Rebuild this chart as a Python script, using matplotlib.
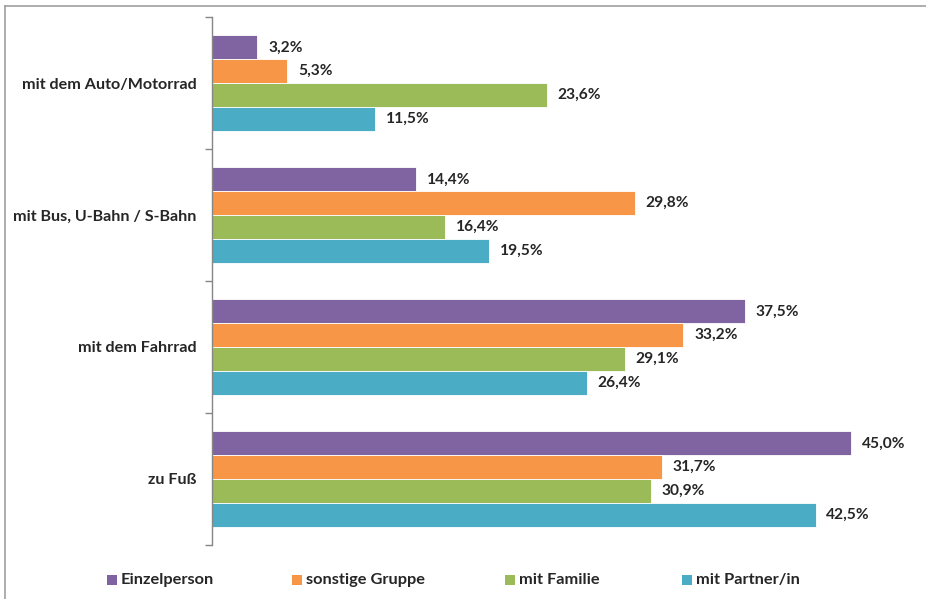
import matplotlib
matplotlib.use("Agg")
import matplotlib.pyplot as plt
from matplotlib.patches import Rectangle
from matplotlib.lines import Line2D
import numpy as np

categories = ["mit dem Auto/Motorrad", "mit Bus, U-Bahn / S-Bahn", "mit dem Fahrrad", "zu Fuß"]
series_names = ["Einzelperson", "sonstige Gruppe", "mit Familie", "mit Partner/in"]
einzelperson = [3.2, 14.4, 37.5, 45.0]
sonstige_gruppe = [5.3, 29.8, 33.2, 31.7]
mit_familie = [23.6, 16.4, 29.1, 30.9]
mit_partner = [11.5, 19.5, 26.4, 42.5]
colors = ["#8064A2", "#F79646", "#9BBB59", "#4BACC6"]

values = [einzelperson, sonstige_gruppe, mit_familie, mit_partner]

plt.rcParams['font.family'] = ['Lato', 'DejaVu Sans']
fig = plt.figure(figsize=(9.26, 5.99), dpi=100)
W, H = 926, 599
ax = fig.add_axes([212 / W, 1 - 545 / H, (922 - 212) / W, (545 - 17) / H])

n = len(categories)
bar_h = 0.18
for si, (name, vals, c) in enumerate(zip(series_names, values, colors)):
    ys = [ci + (si - 1.5) * bar_h for ci in range(n)]
    ax.barh(ys, vals, height=bar_h, color=c, edgecolor='white', linewidth=0.6, label=name)
    for y, v in zip(ys, vals):
        ax.text(v + 0.75, y, f"{v:.1f}%".replace('.', ','), va='center', ha='left',
                fontsize=11.2, fontweight='bold', color='#262626')

ax.set_xlim(0, 50)
ax.set_ylim(n - 0.5, -0.5)
ax.set_yticks(np.arange(n))
ax.set_yticklabels(categories, fontsize=11.6, fontweight='bold', color='#262626')
ax.set_yticks(np.arange(n + 1) - 0.5, minor=True)
ax.tick_params(axis='y', which='major', length=0, pad=11)
ax.tick_params(axis='y', which='minor', length=5, color='#868686', width=1)
ax.set_xticks([])
for s in ['top', 'right', 'bottom']:
    ax.spines[s].set_visible(False)
ax.spines['left'].set_color('#868686')
ax.spines['left'].set_linewidth(1)

# chart border (top and left)
fig.add_artist(Line2D([5 / W, 5 / W], [0, 1 - 6 / H], transform=fig.transFigure, color='#A0A0A0', lw=1.2))
fig.add_artist(Line2D([5 / W, 1], [1 - 6 / H, 1 - 6 / H], transform=fig.transFigure, color='#A0A0A0', lw=1.2))

# legend
legend_x = [107, 292, 505, 682]
ly = 580
for x, name, c in zip(legend_x, series_names, colors):
    fig.add_artist(Rectangle((x / W, (H - ly - 5) / H), 10 / W, 10 / H, transform=fig.transFigure,
                             facecolor=c, edgecolor='none'))
    fig.text((x + 14) / W, (H - ly) / H, name, va='center', ha='left', fontsize=11.8,
             fontweight='bold', color='#262626')

fig.savefig("out.png", dpi=100)
